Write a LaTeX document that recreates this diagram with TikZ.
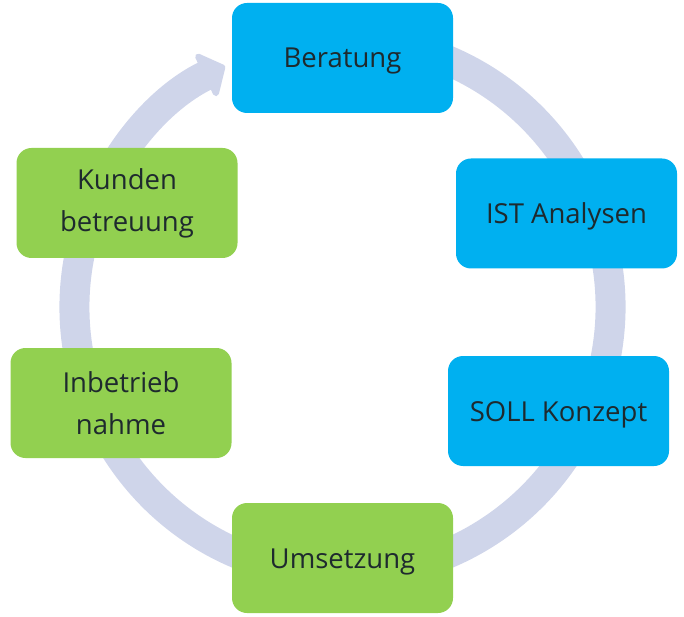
\documentclass[tikz,border=0pt]{standalone}
\usepackage{fontspec}
\setmainfont{Open Sans}
\usetikzlibrary{arrows.meta}
\definecolor{boxblue}{HTML}{00B0F0}
\definecolor{boxgreen}{HTML}{92D050}
\definecolor{ringcol}{HTML}{CFD5EA}
\definecolor{txtcol}{HTML}{1E2A2E}
\tikzset{
  stage/.style={rounded corners=15pt, minimum width=221pt, minimum height=110pt,
    inner sep=0pt, align=center, text=txtcol,
    font=\fontsize{27.5}{42}\selectfont},
  oneline/.style={text height=20pt, text depth=0pt},
  bluebox/.style={stage, fill=boxblue},
  greenbox/.style={stage, fill=boxgreen},
  ring/.style={draw=ringcol, line width=30pt,
    -{Triangle[length=24pt, width=56pt, round]}}
}
\begin{document}
\begin{tikzpicture}[x=1pt, y=1pt]
\useasboundingbox (0,0) rectangle (684,616);
\coordinate (c) at (342.5,309);
\draw[ring] ([shift={(75:268)}]c) arc[start angle=75, end angle=-244, radius=268];
\node[bluebox, oneline] (ber) at (342.5,558) {Beratung};
\node[bluebox, oneline] (ist) at (566.5,402.5) {IST Analysen};
\node[bluebox, oneline] (soll) at (558.5,205) {SOLL Konzept};
\node[greenbox, oneline] (ums) at (342.5,58) {Umsetzung};
\node[greenbox] (inb) at (121,213) {Inbetrieb\\nahme};
\node[greenbox] (kun) at (127,413) {Kunden\\betreuung};
\end{tikzpicture}
\end{document}
